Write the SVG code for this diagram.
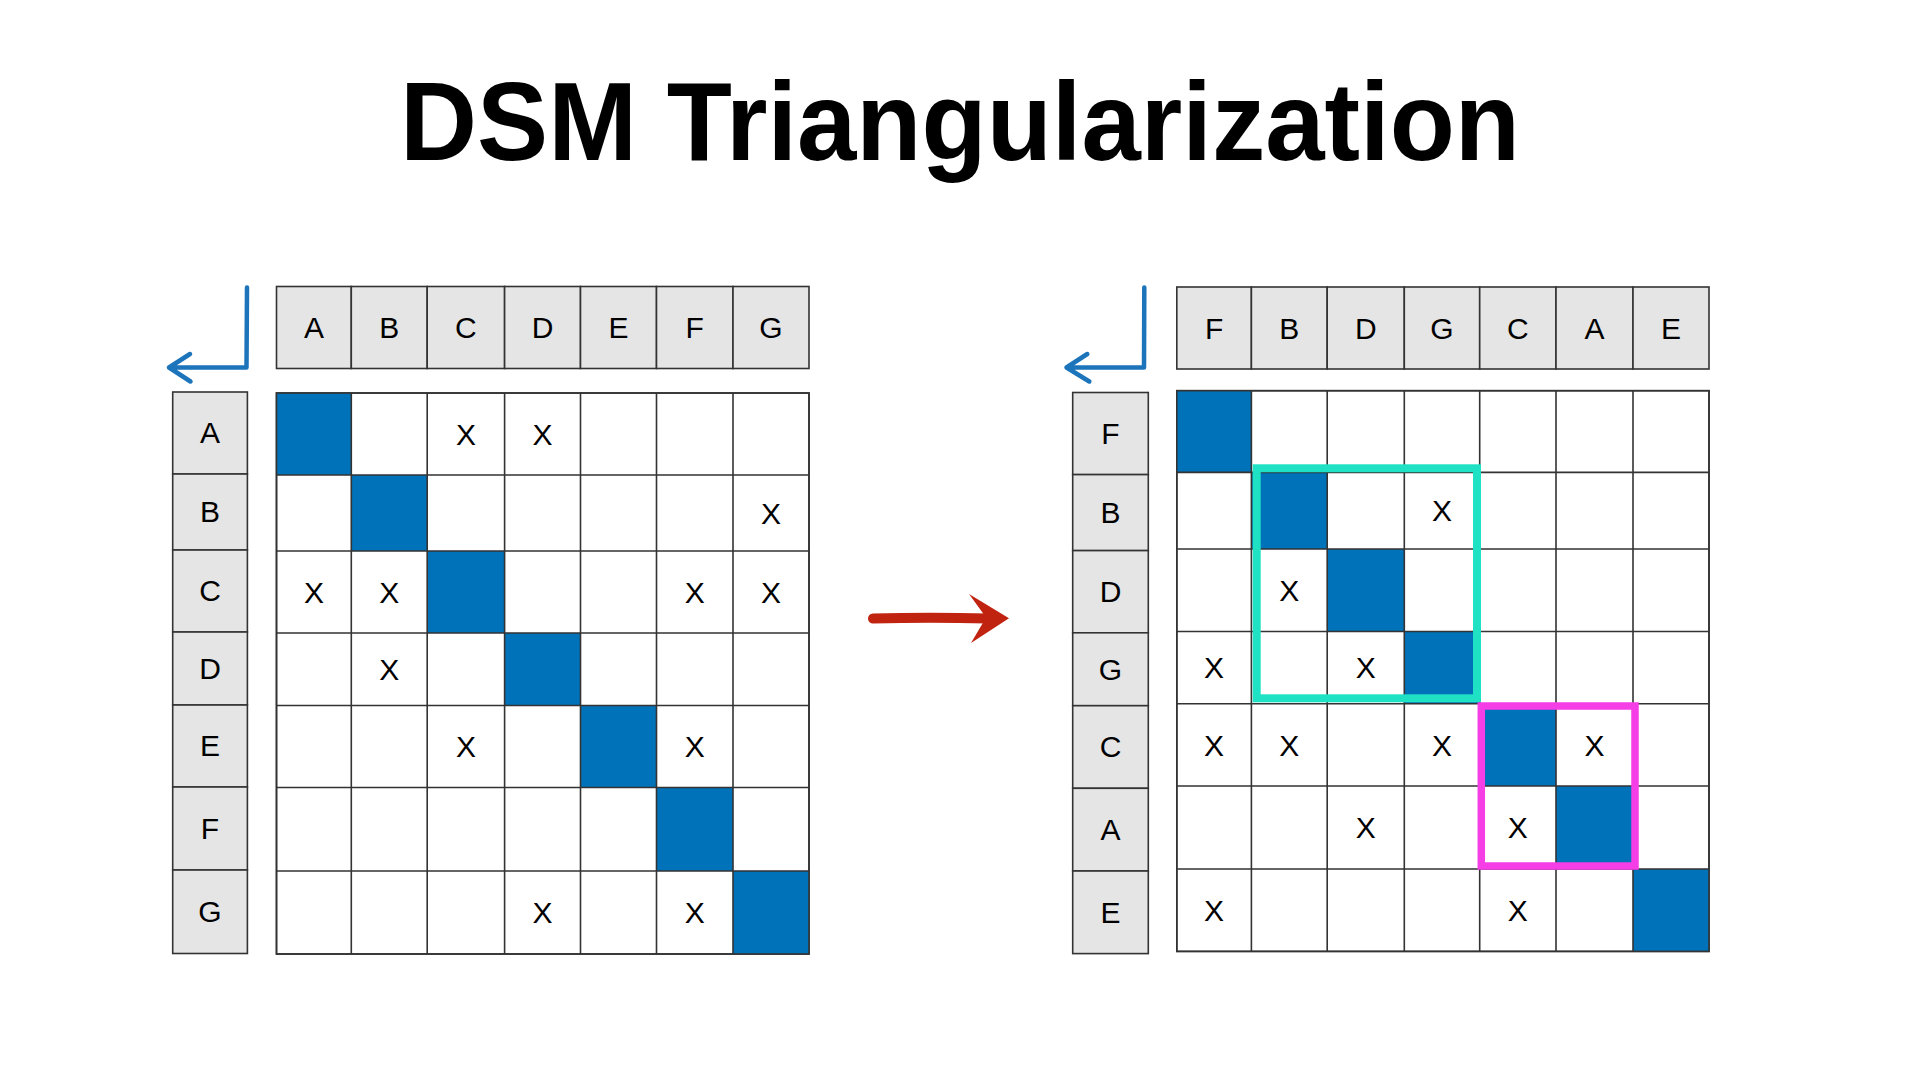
<svg xmlns="http://www.w3.org/2000/svg" width="1920" height="1080" viewBox="0 0 1920 1080">
<style>
.bg{fill:#ffffff}
.title{font-family:"Liberation Sans",Arial,sans-serif;font-weight:bold;font-size:112px;fill:#000}
.hdr{fill:#e5e5e5;stroke:#333;stroke-width:1.6}
.gridbg{fill:#ffffff;stroke:#333;stroke-width:1.6}
.grid{fill:none;stroke:#333;stroke-width:1.6}
.diag{fill:#0072b9}
.lbl{font-family:"Liberation Sans",Arial,sans-serif;font-size:30px;fill:#000;text-anchor:middle}
.corner{fill:none;stroke:#1c74bb;stroke-width:4.5;stroke-linecap:round;stroke-linejoin:round}
.teal{fill:none;stroke:#1ee2c3;stroke-width:8}
.mag{fill:none;stroke:#f53ee6;stroke-width:7.5}
.red{fill:none;stroke:#c0230f;stroke-width:10;stroke-linecap:round}
</style>
<rect class="bg" x="0" y="0" width="1920" height="1080"/>
<text id="title" class="title" x="960" y="160" text-anchor="middle" textLength="1120" lengthAdjust="spacingAndGlyphs">DSM Triangularization</text>

<g id="left-matrix">
  <g id="left-col-headers">
    <rect class="hdr" x="276.5" y="286.5" width="74.8" height="82"/>
    <rect class="hdr" x="351.3" y="286.5" width="75.9" height="82"/>
    <rect class="hdr" x="427.2" y="286.5" width="77.4" height="82"/>
    <rect class="hdr" x="504.6" y="286.5" width="75.9" height="82"/>
    <rect class="hdr" x="580.5" y="286.5" width="76" height="82"/>
    <rect class="hdr" x="656.5" y="286.5" width="76.5" height="82"/>
    <rect class="hdr" x="733" y="286.5" width="76" height="82"/>
    <text class="lbl" x="313.9" y="338.3">A</text>
    <text class="lbl" x="389.25" y="338.3">B</text>
    <text class="lbl" x="465.9" y="338.3">C</text>
    <text class="lbl" x="542.55" y="338.3">D</text>
    <text class="lbl" x="618.5" y="338.3">E</text>
    <text class="lbl" x="694.75" y="338.3">F</text>
    <text class="lbl" x="771" y="338.3">G</text>
  </g>
  <g id="left-row-headers">
    <rect class="hdr" x="172.7" y="392" width="74.7" height="82"/>
    <rect class="hdr" x="172.7" y="474" width="74.7" height="76"/>
    <rect class="hdr" x="172.7" y="550" width="74.7" height="82"/>
    <rect class="hdr" x="172.7" y="632" width="74.7" height="73"/>
    <rect class="hdr" x="172.7" y="705" width="74.7" height="82"/>
    <rect class="hdr" x="172.7" y="787" width="74.7" height="83"/>
    <rect class="hdr" x="172.7" y="870" width="74.7" height="83.5"/>
    <text class="lbl" x="210" y="443.25">A</text>
    <text class="lbl" x="210" y="522.25">B</text>
    <text class="lbl" x="210" y="601.25">C</text>
    <text class="lbl" x="210" y="678.75">D</text>
    <text class="lbl" x="210" y="756.25">E</text>
    <text class="lbl" x="210" y="838.75">F</text>
    <text class="lbl" x="210" y="922.25">G</text>
  </g>
  <g id="left-cells">
    <rect class="gridbg" x="276.5" y="393" width="532.5" height="561"/>
    <rect class="diag" x="276.5" y="393" width="74.8" height="82"/>
    <rect class="diag" x="351.3" y="475" width="75.9" height="76"/>
    <rect class="diag" x="427.2" y="551" width="77.4" height="82"/>
    <rect class="diag" x="504.6" y="633" width="75.9" height="72.5"/>
    <rect class="diag" x="580.5" y="705.5" width="76" height="82"/>
    <rect class="diag" x="656.5" y="787.5" width="76.5" height="83.5"/>
    <rect class="diag" x="733" y="871" width="76" height="83"/>
    <path class="grid" d="M351.3,393V954M427.2,393V954M504.6,393V954M580.5,393V954M656.5,393V954M733,393V954M276.5,475H809M276.5,551H809M276.5,633H809M276.5,705.5H809M276.5,787.5H809M276.5,871H809"/>
    <rect class="grid" x="276.5" y="393" width="532.5" height="561"/>
    <text class="lbl" x="465.9" y="444.75">X</text>
    <text class="lbl" x="542.55" y="444.75">X</text>
    <text class="lbl" x="771" y="523.75">X</text>
    <text class="lbl" x="313.9" y="602.75">X</text>
    <text class="lbl" x="389.25" y="602.75">X</text>
    <text class="lbl" x="694.75" y="602.75">X</text>
    <text class="lbl" x="771" y="602.75">X</text>
    <text class="lbl" x="389.25" y="680">X</text>
    <text class="lbl" x="465.9" y="757.25">X</text>
    <text class="lbl" x="694.75" y="757.25">X</text>
    <text class="lbl" x="542.55" y="923.25">X</text>
    <text class="lbl" x="694.75" y="923.25">X</text>
  </g>
</g>

<g id="right-matrix">
  <g id="right-col-headers">
    <rect class="hdr" x="1176.8" y="287" width="74.6" height="82"/>
    <rect class="hdr" x="1251.4" y="287" width="75.8" height="82"/>
    <rect class="hdr" x="1327.2" y="287" width="77.1" height="82"/>
    <rect class="hdr" x="1404.3" y="287" width="75.4" height="82"/>
    <rect class="hdr" x="1479.7" y="287" width="76.3" height="82"/>
    <rect class="hdr" x="1556" y="287" width="77" height="82"/>
    <rect class="hdr" x="1633" y="287" width="76" height="82"/>
    <text class="lbl" x="1214.1" y="338.75">F</text>
    <text class="lbl" x="1289.3" y="338.75">B</text>
    <text class="lbl" x="1365.75" y="338.75">D</text>
    <text class="lbl" x="1442" y="338.75">G</text>
    <text class="lbl" x="1517.85" y="338.75">C</text>
    <text class="lbl" x="1594.5" y="338.75">A</text>
    <text class="lbl" x="1671" y="338.75">E</text>
  </g>
  <g id="right-row-headers">
    <rect class="hdr" x="1072.7" y="392.5" width="75.6" height="82.1"/>
    <rect class="hdr" x="1072.7" y="474.6" width="75.6" height="76"/>
    <rect class="hdr" x="1072.7" y="550.6" width="75.6" height="82.2"/>
    <rect class="hdr" x="1072.7" y="632.8" width="75.6" height="72.9"/>
    <rect class="hdr" x="1072.7" y="705.7" width="75.6" height="82.6"/>
    <rect class="hdr" x="1072.7" y="788.3" width="75.6" height="82.7"/>
    <rect class="hdr" x="1072.7" y="871" width="75.6" height="82.6"/>
    <text class="lbl" x="1110.5" y="443.75">F</text>
    <text class="lbl" x="1110.5" y="522.85">B</text>
    <text class="lbl" x="1110.5" y="601.95">D</text>
    <text class="lbl" x="1110.5" y="679.5">G</text>
    <text class="lbl" x="1110.5" y="757.25">C</text>
    <text class="lbl" x="1110.5" y="839.9">A</text>
    <text class="lbl" x="1110.5" y="922.55">E</text>
  </g>
  <g id="right-cells">
    <rect class="gridbg" x="1176.8" y="390.7" width="532.2" height="560.7"/>
    <rect class="diag" x="1176.8" y="390.7" width="74.6" height="81.7"/>
    <rect class="diag" x="1251.4" y="472.4" width="75.8" height="76.6"/>
    <rect class="diag" x="1327.2" y="549" width="77.1" height="82.5"/>
    <rect class="diag" x="1404.3" y="631.5" width="75.4" height="72.2"/>
    <rect class="diag" x="1479.7" y="703.7" width="76.3" height="82.3"/>
    <rect class="diag" x="1556" y="786" width="77" height="83"/>
    <rect class="diag" x="1633" y="869" width="76" height="82.4"/>
    <path class="grid" d="M1251.4,390.7V951.4M1327.2,390.7V951.4M1404.3,390.7V951.4M1479.7,390.7V951.4M1556,390.7V951.4M1633,390.7V951.4M1176.8,472.4H1709M1176.8,549H1709M1176.8,631.5H1709M1176.8,703.7H1709M1176.8,786H1709M1176.8,869H1709"/>
    <rect class="grid" x="1176.8" y="390.7" width="532.2" height="560.7"/>
    <text class="lbl" x="1442" y="521.45">X</text>
    <text class="lbl" x="1289.3" y="601">X</text>
    <text class="lbl" x="1214.1" y="678.35">X</text>
    <text class="lbl" x="1365.75" y="678.35">X</text>
    <text class="lbl" x="1214.1" y="755.6">X</text>
    <text class="lbl" x="1289.3" y="755.6">X</text>
    <text class="lbl" x="1442" y="755.6">X</text>
    <text class="lbl" x="1594.5" y="755.6">X</text>
    <text class="lbl" x="1365.75" y="838.25">X</text>
    <text class="lbl" x="1517.85" y="838.25">X</text>
    <text class="lbl" x="1214.1" y="920.95">X</text>
    <text class="lbl" x="1517.85" y="920.95">X</text>
  </g>
  <rect id="block-teal" class="teal" x="1256.7" y="468.3" width="220.3" height="230"/>
  <rect id="block-magenta" class="mag" x="1481.3" y="706" width="153.7" height="160"/>
</g>

<g id="connectors">
  <path id="left-corner-arrow" class="corner" d="M247,287.5 L246.5,367.5 L169,367.5 M190,354 L169,367.5 L190.5,381.5"/>
  <path id="right-corner-arrow" class="corner" d="M1144.3,287.5 L1144,367.5 L1066.5,367.5 M1087.3,354 L1066.5,367.5 L1089.3,381.5"/>
  <path id="transform-arrow" class="red" d="M873,618.5 Q930,617 988,618.5"/>
  <polygon fill="#c0230f" points="969,594 1009,618.3 971,643 984,621 985,616"/>
</g>
</svg>
